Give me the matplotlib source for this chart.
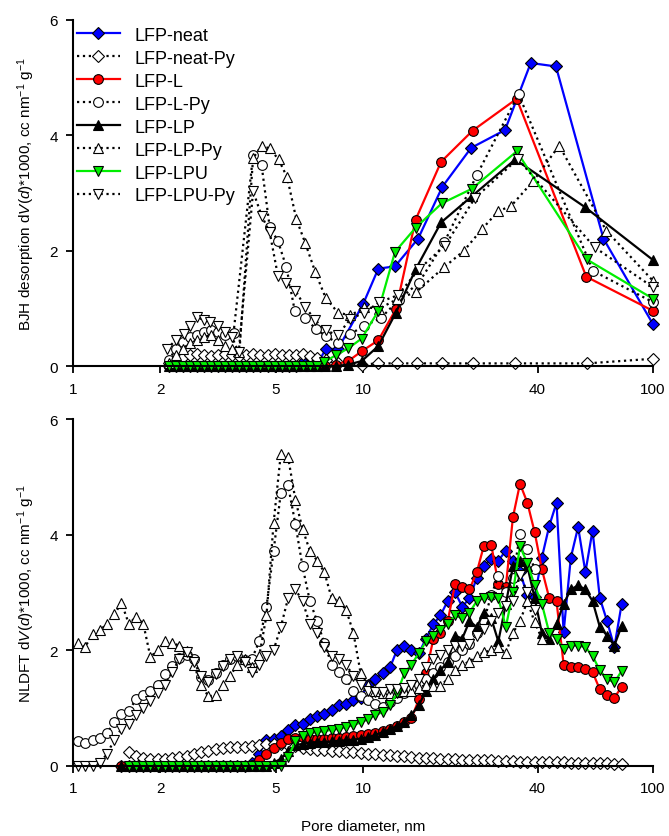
import matplotlib
matplotlib.use('Agg')
import matplotlib.pyplot as plt
import numpy as np

plt.rcParams['font.family'] = ['Liberation Sans', 'DejaVu Sans']
plt.rcParams['mathtext.fontset'] = 'custom'
plt.rcParams['mathtext.rm'] = 'Liberation Sans'
plt.rcParams['mathtext.it'] = 'Liberation Sans:italic'

nan = np.nan

# ---------------- BJH desorption (top panel) ----------------
# small-pore part shared by the solid series
bjh_small_d = [2.14, 2.26, 2.39, 2.53, 2.68, 2.83, 2.99, 3.17, 3.35, 3.54, 3.75,
               3.96, 4.19, 4.43, 4.69, 4.96, 5.24, 5.55, 5.87, 6.20, 6.56, 6.94]
bjh_small_zero = [0, 0, 0, 0, 0, 0, 0, 0, 0, 0, 0, 0, 0, 0, 0, 0, 0, 0, 0, 0, 0, 0]

bjh_neat_d = bjh_small_d + [7.44, 8.2, 10.0, 11.3, 12.9, 15.5, 18.8, 23.6, 30.9, 37.9, 46.3, 67.5, 100]
bjh_neat = [0, 0, 0, 0, 0, 0, 0, 0, 0, 0, 0, 0, 0, 0, 0, 0, 0, 0, 0, 0.08, 0.05, 0.02,
            0.30, 0.30, 1.07, 1.69, 1.73, 2.21, 3.11, 3.78, 4.09, 5.25, 5.19, 2.21, 0.73]

bjh_L_d = bjh_small_d + [7.4, 8.05, 8.9, 9.9, 11.3, 13.0, 15.2, 18.6, 23.9, 33.9, 58.9, 100]
bjh_L = bjh_small_zero + [0.0, 0.03, 0.09, 0.26, 0.45, 0.99, 2.54, 3.54, 4.08, 4.63, 1.55, 0.96]

bjh_LP_d = bjh_small_d + [7.4, 8.05, 8.9, 9.9, 11.3, 13.0, 15.2, 18.6, 23.7, 33.5, 58.5, 100]
bjh_LP = bjh_small_zero + [0.0, 0.0, 0.03, 0.09, 0.35, 0.93, 1.68, 2.49, 2.94, 3.58, 2.75, 1.84]

bjh_LPU_d = bjh_small_d + [7.35, 8.05, 8.9, 9.9, 11.3, 12.9, 15.2, 18.7, 23.7, 33.9, 59.1, 100]
bjh_LPU = bjh_small_zero + [0.07, 0.19, 0.31, 0.48, 0.96, 1.98, 2.40, 2.82, 3.07, 3.72, 1.85, 1.17]

bjh_neat_py_d = bjh_small_d + [7.44, 8.2, 9.9, 11.3, 13.1, 15.4, 18.8, 23.9, 33.4, 59.3, 100]
bjh_neat_py = [0.05, 0.12, 0.16, 0.20, 0.22, 0.20, 0.18, 0.20, 0.22, 0.20, 0.18, 0.20,
               0.21, 0.20, 0.20, 0.21, 0.20, 0.19, 0.20, 0.21, 0.18, 0.15,
               0.10, 0.05, 0.03, 0.05, 0.05, 0.05, 0.05, 0.05, 0.05, 0.05, 0.13]

bjh_L_py_d = [2.14, 2.26, 2.39, 2.53, 2.68, 2.83, 2.99, 3.17, 3.35, 3.58, 4.18, 4.47, 4.77,
              5.09, 5.45, 5.82, 6.30, 6.87, 7.46, 8.2, 9.06, 10.1, 11.5, 13.3, 15.6, 19.1,
              24.7, 34.4, 62.2, 100]
bjh_L_py = [0.10, 0.30, 0.42, 0.50, 0.55, 0.60, 0.62, 0.60, 0.55, 0.58, 3.65, 3.49, 2.41,
            2.17, 1.71, 0.96, 0.84, 0.65, 0.52, 0.40, 0.56, 0.70, 0.83, 1.15, 1.45, 2.15,
            3.31, 4.71, 1.65, 1.11]

bjh_LP_py_d = [2.14, 2.26, 2.39, 2.53, 2.68, 2.83, 2.99, 3.17, 3.35, 3.54, 3.75, 4.18, 4.47,
               4.77, 5.12, 5.48, 5.89, 6.33, 6.85, 7.43, 8.19, 9.06, 10.1, 11.4, 13.1, 15.3,
               19.0, 22.3, 25.8, 29.2, 32.5, 38.7, 47.5, 69.0, 100]
bjh_LP_py = [0.05, 0.20, 0.30, 0.40, 0.45, 0.50, 0.55, 0.45, 0.35, 0.30, 0.25, 3.60, 3.82,
             3.77, 3.58, 3.27, 2.55, 2.13, 1.63, 1.19, 0.93, 0.88, 1.02, 1.00, 1.16, 1.29,
             1.71, 2.00, 2.38, 2.68, 2.78, 3.21, 3.82, 2.35, 1.48]

bjh_LPU_py_d = [2.11, 2.26, 2.41, 2.54, 2.68, 2.83, 2.97, 3.17, 3.35, 3.54, 3.73, 4.18, 4.47,
                4.77, 5.09, 5.45, 5.85, 6.33, 6.85, 7.43, 8.19, 9.06, 10.1, 11.4, 13.2, 15.6,
                19.2, 24.3, 34.2, 62.9, 100]
bjh_LPU_py = [0.30, 0.45, 0.56, 0.70, 0.85, 0.80, 0.76, 0.70, 0.60, 0.50, 0.24, 3.03, 2.61,
              2.32, 1.57, 1.45, 1.31, 1.02, 0.80, 0.62, 0.54, 0.82, 0.93, 1.11, 1.23, 1.68,
              2.09, 2.91, 3.59, 2.06, 1.37]

# ---------------- NLDFT (bottom panel) ----------------
nldft_d = [1.04, 1.10, 1.17, 1.24, 1.31, 1.39, 1.47, 1.56, 1.65, 1.75,
           1.85, 1.96, 2.08, 2.20, 2.33, 2.47, 2.61, 2.77, 2.93, 3.11,
           3.29, 3.48, 3.69, 3.91, 4.14, 4.39, 4.65, 4.92, 5.21, 5.52,
           5.85, 6.19, 6.56, 6.95, 7.36, 7.80, 8.26, 8.75, 9.27, 9.82,
           10.4, 11.0, 11.7, 12.4, 13.1, 13.9, 14.7, 15.6, 16.5, 17.5,
           18.5, 19.6, 20.8, 22.0, 23.3, 24.7, 26.1, 27.7, 29.3, 31.1,
           32.9, 34.8, 36.9, 39.1, 41.4, 43.9, 46.5, 49.2, 52.1, 55.2,
           58.5, 61.9, 65.6, 69.5, 73.6, 78.0]

nl_neat = [nan, nan, nan, nan, nan, nan, 0, 0, 0, 0,
           0, 0, 0, 0, 0, 0, 0, 0, 0, 0,
           0, 0, 0, 0, 0.05, 0.20, 0.45, 0.47, 0.52, 0.62,
           0.70, 0.72, 0.80, 0.86, 0.89, 0.97, 1.05, 1.06, 1.13, 1.18,
           1.40, 1.50, 1.60, 1.70, 2.00, 2.08, 2.00, 1.95, 2.20, 2.45,
           2.60, 2.85, 3.00, 2.75, 2.90, 3.25, 3.45, 3.58, 3.55, 3.72,
           3.55, 3.35, 2.95, 2.92, 3.60, 4.15, 4.55, 2.31, 3.60, 4.13,
           3.35, 4.07, 2.90, 2.50, 2.05, 2.80]
nl_neat_py = [nan, nan, nan, nan, nan, nan, nan, 0.24, 0.17, 0.14,
              0.12, 0.12, 0.12, 0.13, 0.15, 0.17, 0.20, 0.23, 0.26, 0.29,
              0.31, 0.32, 0.32, 0.32, 0.34, 0.35, 0.37, 0.38, 0.37, 0.36,
              0.34, 0.31, 0.29, 0.28, 0.27, 0.26, 0.25, 0.24, 0.23, 0.22,
              0.21, 0.20, 0.19, 0.18, 0.17, 0.16, 0.15, 0.14, 0.13, 0.13,
              0.12, 0.12, 0.11, 0.10, 0.10, 0.09, 0.09, 0.09, 0.08, 0.08,
              0.08, 0.07, 0.07, 0.07, 0.07, 0.06, 0.06, 0.06, 0.05, 0.05,
              0.05, 0.04, 0.04, 0.04, 0.03, 0.03]
nl_L = [nan, nan, nan, nan, nan, nan, 0, 0, 0, 0,
        0, 0, 0, 0, 0, 0, 0, 0, 0, 0,
        0, 0, 0, 0, 0.02, 0.10, 0.20, 0.30, 0.40, 0.46,
        0.48, 0.49, 0.47, 0.47, 0.47, 0.48, 0.48, 0.50, 0.51, 0.53,
        0.55, 0.57, 0.60, 0.64, 0.69, 0.75, 0.82, 1.15, 1.60, 2.20,
        2.30, 2.50, 3.15, 3.10, 3.05, 3.35, 3.80, 3.82, 3.15, 3.10,
        4.30, 4.88, 4.55, 4.04, 3.40, 2.90, 2.85, 1.75, 1.70, 1.70,
        1.68, 1.62, 1.32, 1.22, 1.18, 1.36]
nl_L_py = [0.43, 0.40, 0.45, 0.48, 0.57, 0.75, 0.90, 0.95, 1.15, 1.23,
           1.30, 1.40, 1.58, 1.72, 1.86, 1.91, 1.85, 1.53, 1.48, 1.60,
           1.75, 1.85, 1.90, 1.83, 1.85, 2.15, 2.75, 3.72, 4.72, 4.85,
           4.18, 3.45, 2.85, 2.50, 2.12, 1.75, 1.62, 1.50, 1.30, 1.20,
           1.13, 1.07, 1.01, 1.10, 1.18, 1.25, 1.32, 1.40, 1.50, 1.60,
           1.70, 1.80, 1.90, 2.00, 2.10, 2.30, 2.50, 2.95, 3.28, 3.00,
           3.25, 4.01, 3.75, 3.40, nan, nan, nan, nan, nan, nan,
           nan, nan, nan, nan, nan, nan]
nl_LP = [nan, nan, nan, nan, nan, nan, 0, 0, 0, 0,
         0, 0, 0, 0, 0, 0, 0, 0, 0, 0,
         0, 0, 0, 0, 0, 0, 0, 0.05, 0.12, 0.25,
         0.35, 0.38, 0.40, 0.41, 0.41, 0.42, 0.43, 0.44, 0.45, 0.47,
         0.49, 0.53, 0.58, 0.63, 0.69, 0.75, 0.88, 1.05, 1.30, 1.50,
         1.65, 1.80, 2.25, 2.20, 2.50, 2.40, 2.65, 2.55, 2.15, 2.80,
         3.45, 3.55, 3.45, 2.90, 2.30, 2.20, 2.45, 2.80, 3.05, 3.12,
         3.05, 2.85, 2.40, 2.25, 2.08, 2.42]
nl_LP_py = [2.13, 2.05, 2.28, 2.35, 2.45, 2.62, 2.82, 2.45, 2.58, 2.45,
            1.88, 2.00, 2.15, 2.12, 2.08, 1.98, 1.75, 1.40, 1.20, 1.22,
            1.40, 1.55, 1.75, 1.85, 1.70, 1.90, 2.60, 4.20, 5.40, 5.34,
            4.60, 4.10, 3.72, 3.55, 3.35, 2.90, 2.85, 2.70, 2.30, 1.60,
            1.40, 1.30, 1.25, 1.25, 1.28, 1.30, 1.30, 1.35, 1.40, 1.38,
            1.38, 1.50, 1.65, 1.75, 1.80, 1.90, 1.96, 2.00, 2.05, 1.95,
            2.30, 2.50, 2.85, 2.48, 2.20, nan, nan, nan, nan, nan,
            nan, nan, nan, nan, nan, nan]
nl_LPU = [nan, nan, nan, nan, nan, nan, nan, 0, 0, 0,
          0, 0, 0, 0, 0, 0, 0, 0, 0, 0,
          0, 0, 0, 0, 0, 0, 0, 0, 0, 0.15,
          0.42, 0.52, 0.56, 0.58, 0.60, 0.62, 0.64, 0.67, 0.70, 0.75,
          0.80, 0.87, 0.93, 1.05, 1.25, 1.60, 1.75, 1.95, 2.15, 2.25,
          2.35, 2.45, 2.60, 2.55, 2.65, 2.85, 2.90, 2.92, 2.90, 2.40,
          3.00, 3.80, 3.50, 3.12, 2.80, 2.30, 2.20, 2.02, 2.08, 2.08,
          2.05, 1.90, 1.65, 1.50, 1.44, 1.64]
nl_LPU_py = [0.0, 0.0, 0.0, 0.05, 0.20, 0.45, 0.64, 0.72, 0.87, 1.00,
             1.12, 1.25, 1.40, 1.62, 1.85, 1.96, 1.80, 1.55, 1.44, 1.58,
             1.72, 1.85, 1.90, 1.80, 1.62, 1.75, 1.90, 2.00, 2.40, 2.90,
             3.05, 2.85, 2.45, 2.30, 2.05, 1.90, 1.85, 1.75, 1.55, 1.40,
             1.30, 1.27, 1.28, 1.32, 1.33, 1.35, 1.40, 1.50, 1.70, 1.85,
             1.92, 2.00, 2.08, 2.08, 2.10, 2.25, 2.37, 2.50, 2.65, 2.77,
             2.85, 3.30, 3.00, 2.70, nan, nan, nan, nan, nan, nan,
             nan, nan, nan, nan, nan, nan]

labels = ['LFP-neat', 'LFP-neat-Py', 'LFP-L', 'LFP-L-Py',
          'LFP-LP', 'LFP-LP-Py', 'LFP-LPU', 'LFP-LPU-Py']

top_series = [(bjh_neat_d, bjh_neat), (bjh_neat_py_d, bjh_neat_py),
              (bjh_L_d, bjh_L), (bjh_L_py_d, bjh_L_py),
              (bjh_LP_d, bjh_LP), (bjh_LP_py_d, bjh_LP_py),
              (bjh_LPU_d, bjh_LPU), (bjh_LPU_py_d, bjh_LPU_py)]
bottom_series = [nl_neat, nl_neat_py, nl_L, nl_L_py, nl_LP, nl_LP_py, nl_LPU, nl_LPU_py]

# line colour, marker, face colour, marker size, line style
styles = [
    ('#0000ff', 'D', '#0000ff', 6.0, '-'),
    ('black', 'D', 'white', 6.0, ':'),
    ('#ff0000', 'o', '#ff0000', 7.0, '-'),
    ('black', 'o', 'white', 7.0, ':'),
    ('black', '^', 'black', 7.5, '-'),
    ('black', '^', 'white', 7.5, ':'),
    ('#00ee00', 'v', '#00ee00', 7.5, '-'),
    ('black', 'v', 'white', 7.5, ':'),
]

xticks = [1, 2, 5, 10, 40, 100]

fig = plt.figure(figsize=(6.69, 8.37), dpi=100)
ax1 = fig.add_axes([0.1090, 0.5612, 0.8670, 0.4141])
ax2 = fig.add_axes([0.1090, 0.0840, 0.8670, 0.4142])

for (d, v), lab, st in zip(top_series, labels, styles):
    col, mk, fc, ms, ls = st
    ax1.plot(d, v, ls=ls, color=col, lw=1.6, marker=mk, ms=ms,
             mfc=fc, mec='black', mew=0.8, label=lab, clip_on=False)

for v, st in zip(bottom_series, styles):
    col, mk, fc, ms, ls = st
    ax2.plot(nldft_d, v, ls=ls, color=col, lw=1.6, marker=mk, ms=ms,
             mfc=fc, mec='black', mew=0.8, clip_on=False)

for ax in (ax1, ax2):
    ax.set_xscale('log')
    ax.set_xlim(1, 100)
    ax.set_ylim(0, 6)
    ax.set_xticks(xticks)
    ax.set_xticklabels([str(t) for t in xticks])
    ax.xaxis.set_minor_locator(matplotlib.ticker.NullLocator())
    ax.set_yticks([0, 2, 4, 6])
    ax.spines['top'].set_visible(False)
    ax.spines['right'].set_visible(False)
    ax.spines['left'].set_linewidth(1.5)
    ax.spines['bottom'].set_linewidth(1.5)
    ax.tick_params(direction='out', length=5, width=1.3, labelsize=11, pad=6)

ax1.set_ylabel(r'BJH desorption d$\it{V}$($\it{d}$)*1000, cc nm$^{-1}$ g$^{-1}$',
               fontsize=11, labelpad=9)
ax2.set_ylabel(r'NLDFT d$\it{V}$($\it{d}$)*1000, cc nm$^{-1}$ g$^{-1}$',
               fontsize=11, labelpad=9)
ax2.set_xlabel('Pore diameter, nm', fontsize=11, labelpad=17)

ax1.legend(loc='upper left', bbox_to_anchor=(0.0, 0.99), frameon=False, fontsize=13,
           handlelength=2.4, handletextpad=0.8, labelspacing=0.33, borderaxespad=0.0,
           borderpad=0.2)

fig.savefig('out.png', dpi=100)
